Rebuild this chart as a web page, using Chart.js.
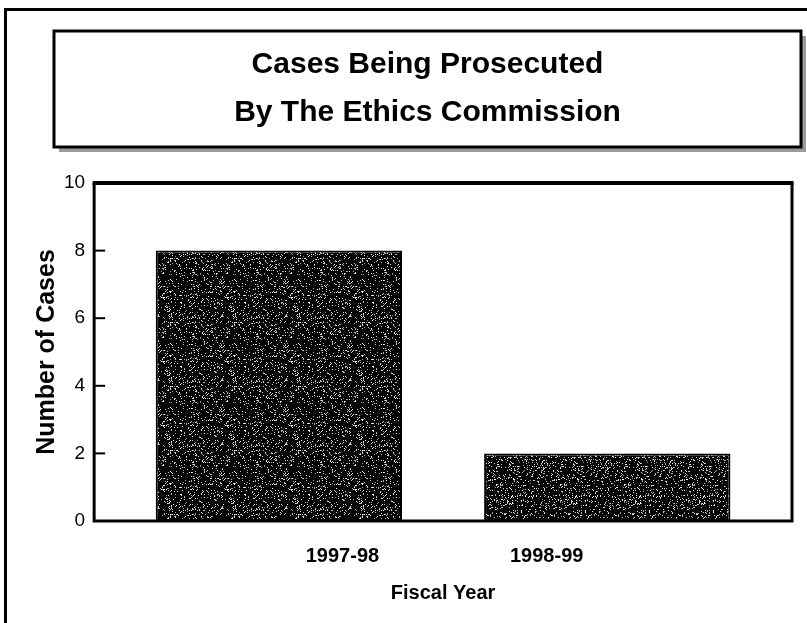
<!DOCTYPE html>
<html>
<head>
<meta charset="utf-8">
<script src="https://cdn.jsdelivr.net/npm/chart.js@4.4.1/dist/chart.umd.min.js"></script>
<style>
    html, body { margin: 0; padding: 0; background: #fff; }
    #wrap { position: relative; width: 807px; height: 623px; overflow: hidden; }
    #frame { position: absolute; left: 4px; top: 8px; width: 900px; height: 700px; border-left: 3px solid #000; border-top: 3px solid #000; }
    #myChart { position: absolute; left: 0; top: 0; }
</style>
</head>
<body>
<div id="wrap">
    <div id="frame"></div>
    <canvas id="myChart" width="807" height="623"></canvas>
</div>
<script>
const titleLines = ["Cases Being Prosecuted", "By The Ethics Commission"];
const categories = ["1997-98", "1998-99"];
const caseCounts = [8, 2];
const yTicks = [0, 2, 4, 6, 8, 10];

const FONT = '"Liberation Sans", Arial, Helvetica, sans-serif';

// speckled dark fill like the scanned bars (fixed seed, texture only)
function speckle(seed, density) {
    const c = document.createElement("canvas");
    c.width = c.height = 64;
    const g = c.getContext("2d");
    g.fillStyle = "#050505";
    g.fillRect(0, 0, 64, 64);
    let s = seed >>> 0;
    for (let i = 0; i < 64 * 64; i++) {
        s = (Math.imul(s, 1103515245) + 12345) >>> 0;
        if (s / 4294967296 < density) {
            const v = 140 + ((s >>> 9) % 116);
            g.fillStyle = `rgb(${v},${v},${v})`;
            g.fillRect(i % 64, Math.floor(i / 64), 1, 1);
        }
    }
    return g.createPattern(c, "repeat");
}

const framePlugin = {
    id: "frames",
    afterLayout(chart) {
        // title box spans 54..801, text centred inside it
        chart.titleBlock.left = 54;
        chart.titleBlock.right = 801;
        chart.titleBlock.width = 747;
    },
    beforeDraw(chart) {
        const ctx = chart.ctx;
        const top = chart.titleBlock.top;
        ctx.save();
        ctx.fillStyle = "#9a9a9a";
        ctx.fillRect(59, top + 5, 747, 116);
        ctx.fillStyle = "#fff";
        ctx.fillRect(54, top, 747, 116);
        ctx.strokeStyle = "#000";
        ctx.lineWidth = 3;
        ctx.strokeRect(54, top, 747, 116);
        ctx.restore();
    },
    afterDatasetsDraw(chart) {
        const { ctx, chartArea: a, scales } = chart;
        ctx.save();
        ctx.strokeStyle = "#000";
        // inner ticks on the value axis
        ctx.lineWidth = 2;
        scales.y.ticks.forEach(t => {
            const py = scales.y.getPixelForValue(t.value);
            ctx.beginPath();
            ctx.moveTo(a.left, py);
            ctx.lineTo(a.left + 11, py);
            ctx.stroke();
        });
        ctx.lineWidth = 3;
        ctx.beginPath();
        ctx.moveTo(a.left, a.top);
        ctx.lineTo(a.left, a.bottom);
        ctx.lineTo(a.right, a.bottom);
        ctx.lineTo(a.right, a.top);
        ctx.stroke();
        ctx.lineWidth = 4;
        ctx.beginPath();
        ctx.moveTo(a.left - 1.5, a.top);
        ctx.lineTo(a.right + 1.5, a.top);
        ctx.stroke();
        ctx.restore();
    },
};

const ctx = document.getElementById("myChart").getContext("2d");

new Chart(ctx, {
    type: "bar",
    data: {
        datasets: [
            {
                label: "Number of Cases",
                data: categories.map((c, i) => ({ x: i + 1, y: caseCounts[i] })),
                backgroundColor: [speckle(17, 0.13), speckle(91, 0.15)],
                borderColor: "#000",
                borderWidth: 2,
                borderSkipped: false,
                barPercentage: 0.75,
                categoryPercentage: 1,
                xAxisID: "x",
            },
        ],
    },
    options: {
        responsive: false,
        animation: false,
        layout: { padding: { top: 31, left: 36, right: 15, bottom: 28 } },
        plugins: {
            legend: { display: false },
            tooltip: { enabled: false },
            title: {
                display: true,
                text: titleLines,
                color: "#000",
                font: { family: FONT, weight: "bold", size: 30, lineHeight: 1.6 },
                padding: { top: 10, bottom: 46 },
            },
        },
        scales: {
            x: {
                type: "linear",
                offset: false,
                min: 0.4375,
                max: 2.5625,
                display: false,
                afterBuildTicks: s => {
                    s.ticks = categories.map((c, i) => ({ value: i + 1 }));
                },
            },
            xl: {
                type: "linear",
                position: "bottom",
                offset: false,
                min: -0.2157,
                max: 3.201,
                grid: { display: false, drawTicks: false },
                border: { display: false },
                afterBuildTicks: s => {
                    s.ticks = categories.map((c, i) => ({ value: i + 1 }));
                },
                ticks: {
                    autoSkip: false,
                    maxRotation: 0,
                    padding: 23,
                    color: "#000",
                    font: { family: FONT, weight: "bold", size: 20, lineHeight: 1.2 },
                    callback: v => categories[v - 1] ?? "",
                },
                title: {
                    display: true,
                    text: "Fiscal Year",
                    color: "#000",
                    font: { family: FONT, weight: "bold", size: 20, lineHeight: 0.2 },
                    padding: { top: 0, bottom: 0 },
                },
            },
            y: {
                min: 0,
                max: 10,
                grid: { display: false, drawTicks: false },
                border: { display: false },
                afterBuildTicks: s => {
                    s.ticks = yTicks.map(v => ({ value: v }));
                },
                ticks: {
                    padding: 9,
                    color: "#000",
                    font: { family: FONT, size: 19 },
                },
                title: {
                    display: true,
                    text: "Number of Cases",
                    color: "#000",
                    font: { family: FONT, weight: "bold", size: 25, lineHeight: 0.6 },
                    padding: { top: 4, bottom: 0 },
                },
            },
        },
    },
    plugins: [framePlugin],
});
</script>
</body>
</html>
